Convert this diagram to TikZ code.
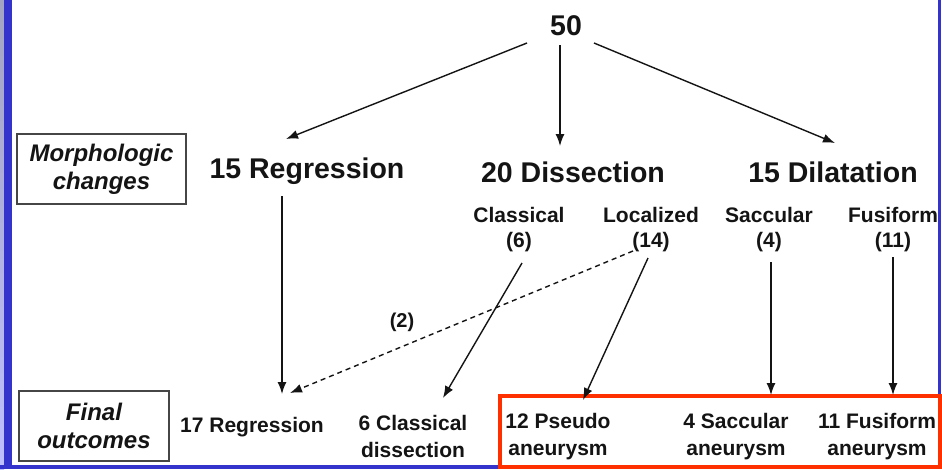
\documentclass[tikz,border=0pt]{standalone}
\usepackage{fontspec}
\setmainfont{Liberation Sans}
\usetikzlibrary{arrows.meta,calc}
\definecolor{bandblue}{RGB}{52,52,204}
\definecolor{boxred}{RGB}{255,48,0}
\definecolor{boxgray}{RGB}{70,70,70}
\definecolor{ink}{RGB}{20,20,20}
\tikzset{
  bigtxt/.style={text=ink, font=\bfseries\fontsize{28.5}{30}\selectfont, inner sep=0pt, anchor=base},
  subtxt/.style={text=ink, font=\bfseries\fontsize{21}{25}\selectfont, inner sep=0pt, align=center},
  bottxt/.style={text=ink, font=\bfseries\fontsize{21}{27}\selectfont, inner sep=0pt, align=center},
  sidebox/.style={draw=boxgray, line width=1.3pt, inner sep=0pt, align=center, text=ink,
     font=\bfseries\itshape\fontsize{24}{28}\selectfont},
  arr/.style={draw=ink, line width=1.4pt, -{Latex[length=12pt,width=9pt]}},
  darr/.style={arr, dash pattern=on 5pt off 4pt},
}
\begin{document}
\begin{tikzpicture}[x=1pt,y=-1pt]
\useasboundingbox (0,0) rectangle (942,469);
\fill[white] (0,0) rectangle (942,469);
% frame
\shade[top color=gray!80!blue!60, bottom color=blue!25] (0,0) rectangle (4,469);
\fill[bandblue] (4,0) rectangle (12,469);
\fill[bandblue] (0,465) rectangle (942,469);
\fill[bandblue] (938,0) rectangle (940.5,469);
\draw[boxred, line width=4pt] (500,396) rectangle (940,467);

% side boxes
\node[sidebox, minimum width=169pt, minimum height=70pt] (morph) at (101.5,169) {Morphologic\\changes};
\node[sidebox, minimum width=150pt, minimum height=70pt] (final) at (94,426) {Final\\outcomes};

% top
\node[bigtxt] (n50) at (566,35) {50};
\node[bigtxt] (reg) at (307,178) {15 Regression};
\node[bigtxt] (dis) at (573,182) {20 Dissection};
\node[bigtxt] (dil) at (833,182) {15 Dilatation};

% sub categories
\node[subtxt] (cls) at (519,230) {Classical\\(6)};
\node[subtxt] (loc) at (651,230) {Localized\\(14)};
\node[subtxt] (sac) at (769,230) {Saccular\\(4)};
\node[subtxt] (fus) at (893,230) {Fusiform\\(11)};

% bottom outcomes
\node[text=ink, font=\bfseries\fontsize{21}{25}\selectfont, inner sep=0pt, anchor=base] (reg17) at (252,432) {17 Regression};
\node[bottxt] (dcl) at (413,436) {6 Classical\\dissection};
\node[bottxt] (pse) at (558,437) {12 Pseudo\\aneurysm};
\node[bottxt] (saca) at (736,437) {4 Saccular\\aneurysm};
\node[bottxt] (fusa) at (877,437) {11 Fusiform\\aneurysm};

\node[text=ink, font=\bfseries\fontsize{20}{24}\selectfont, inner sep=0pt, anchor=base] (two) at (402,327) {(2)};

% connectors
\draw[arr] ($(n50.base)+(-39,8)$) -- ($(reg.base)+(-21,-39)$);
\draw[arr] ($(n50.base)+(-6,10)$) -- ($(dis.base)+(-13,-36)$);
\draw[arr] ($(n50.base)+(28,8)$) -- ($(dil.base)+(2,-39)$);
\draw[arr] ($(reg.base)+(-25,18)$) -- ($(reg17.base)+(30,-38)$);
\draw[darr] ($(loc)+(-18,21)$) -- ($(reg17.base)+(38,-39)$);
\draw[arr] ($(cls)+(3,33)$) -- ($(dcl)+(30,-38)$);
\draw[arr] ($(loc)+(-3,28)$) -- ($(pse)+(25,-37)$);
\draw[arr] ($(sac)+(2,32)$) -- ($(saca)+(35,-42)$);
\draw[arr] ($(fus)+(0,27)$) -- ($(fusa)+(16,-42)$);
\end{tikzpicture}
\end{document}
